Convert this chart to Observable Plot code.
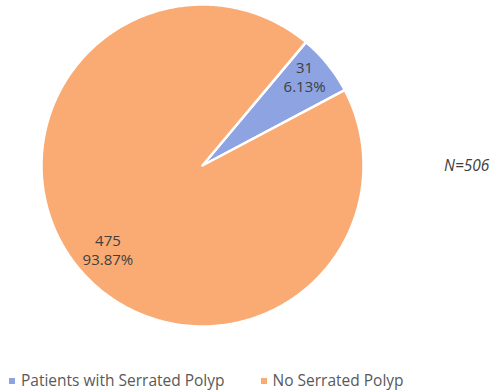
<!DOCTYPE html>
<html>
<head>
<meta charset="utf-8">
<script src="https://cdn.jsdelivr.net/npm/d3@7"></script>
<script src="https://cdn.jsdelivr.net/npm/@observablehq/plot@0.6"></script>
<style>
  html, body { margin: 0; padding: 0; background: #fff; }
  #wrap { position: relative; width: 493px; height: 391px; font-family: "Open Sans", Lato, sans-serif; overflow: hidden; }
  #chart { position: absolute; left: 0; top: 0; }
  #n { position: absolute; left: 444px; top: 154px; font-style: italic; font-size: 15.5px; color: #404040; white-space: nowrap; }
  #legend { position: absolute; left: 9px; top: 369px; font-size: 15.5px; color: #595959; display: flex; gap: 36px; white-space: nowrap; }
  #legend span.sw { display: inline-block; width: 6px; height: 6px; margin-right: 6px; vertical-align: middle; position: relative; top: -1px; }
</style>
</head>
<body>
<div id="wrap">
  <div id="chart"></div>
  <div id="n"></div>
  <div id="legend"></div>
</div>
<script>
const categories = ["Patients with Serrated Polyp", "No Serrated Polyp"];
const counts = [31, 475];
const percents = ["6.13%", "93.87%"];
const colors = ["#8EA3E2", "#FAAB74"];
const totalLabel = "N=506";

const W = 493, H = 360;
const cx = 202, cy = 165, R = 161;
const startDeg = 40; // first slice angle (clockwise from 12 o'clock)

const pie = d3.pie().sort(null).value(d => d.count)
  .startAngle(startDeg * Math.PI / 180)
  .endAngle(startDeg * Math.PI / 180 + 2 * Math.PI);
const rows = categories.map((c, i) => ({category: c, count: counts[i], pct: percents[i]}));
const arcs = pie(rows);

// polygon vertices for each slice (x right, y down, origin at pie center)
const poly = [];
arcs.forEach(a => {
  poly.push({category: a.data.category, x: 0, y: 0});
  const n = Math.max(2, Math.ceil((a.endAngle - a.startAngle) / 0.01));
  for (let k = 0; k <= n; k++) {
    const t = a.startAngle + (a.endAngle - a.startAngle) * k / n;
    poly.push({category: a.data.category, x: R * Math.sin(t), y: -R * Math.cos(t)});
  }
  poly.push({category: a.data.category, x: 0, y: 0});
});

const labelR = [0.84, 0.79];
const labelShift = [-2, -3]; // small angular nudge (degrees)
const labels = arcs.map((a, i) => {
  const m = (a.startAngle + a.endAngle) / 2 + labelShift[i] * Math.PI / 180;
  return {x: labelR[i] * R * Math.sin(m), y: -labelR[i] * R * Math.cos(m), count: String(a.data.count), pct: a.data.pct};
});

const chart = Plot.plot({
  width: W, height: H,
  margin: 0,
  x: {domain: [-cx, W - cx], range: [0, W], axis: null},
  y: {domain: [-cy, H - cy], range: [0, H], axis: null},
  style: {fontFamily: "'Open Sans', Lato, sans-serif", background: "white"},
  marks: [
    ...categories.map((c, i) => Plot.line(poly.filter(d => d.category === c), {
      x: "x", y: "y", fill: colors[i], stroke: "white", strokeWidth: 2.5, strokeLinejoin: "round"
    })),
    Plot.text(labels, {x: "x", y: "y", text: "count", dy: -9, fontSize: 15, fill: "#404040"}),
    Plot.text(labels, {x: "x", y: "y", text: "pct", dy: 10, fontSize: 15, fill: "#404040"})
  ]
});
document.getElementById("chart").appendChild(chart);
document.getElementById("n").textContent = totalLabel;
const lg = document.getElementById("legend");
categories.forEach((c, i) => {
  const item = document.createElement("div");
  item.innerHTML = `<span class="sw" style="background:${colors[i]}"></span>${c}`;
  lg.appendChild(item);
});
</script>
</body>
</html>
